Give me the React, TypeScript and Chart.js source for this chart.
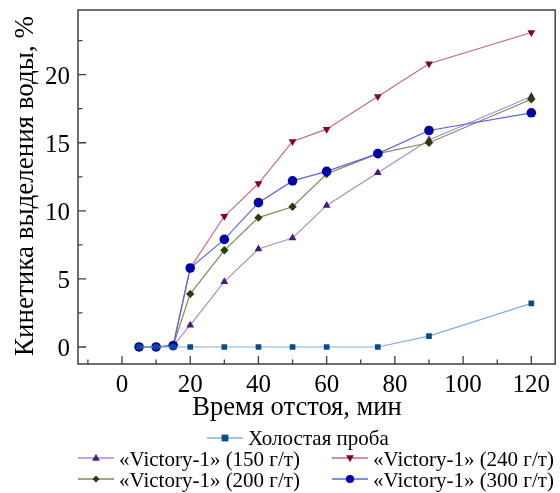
import React, { useEffect, useRef } from "react";
import { Chart, registerables } from "chart.js";

Chart.register(...registerables);

const timeMin = [5, 10, 15, 20, 30, 40, 50, 60, 75, 90, 120];
const blank = [0, 0, 0, 0, 0, 0, 0, 0, 0, 0.8, 3.2];
const v150 = [0, 0, 0.1, 1.6, 4.8, 7.2, 8.0, 10.4, 12.8, 15.2, 18.4];
const v240 = [0, 0, 0.1, 5.8, 9.6, 12.0, 15.1, 16.0, 18.4, 20.8, 23.1];
const v200 = [0, 0, 0.1, 3.9, 7.1, 9.5, 10.3, 12.7, 14.2, 15.0, 18.2];
const v300 = [0, 0, 0.1, 5.8, 7.9, 10.6, 12.2, 12.9, 14.2, 15.9, 17.2];

const seriesLabels = [
  "Холостая проба",
  "«Victory-1» (150 г/т)",
  "«Victory-1» (240 г/т)",
  "«Victory-1» (200 г/т)",
  "«Victory-1» (300 г/т)",
];
const xMajorTicks = [0, 20, 40, 60, 80, 100, 120];
const xMinorTicks = [-10, 10, 30, 50, 70, 90, 110];
const yMajorTicks = [0, 5, 10, 15, 20];
const yMinorTicks = [2.5, 7.5, 12.5, 17.5, 22.5];
const xTitle = "Время отстоя, мин";
const yTitle = "Кинетика выделения воды, %";

const FONT = '"Liberation Serif", "Times New Roman", serif';

type Style = { line: string; marker: string; shape: string; r: number };
const styles: Style[] = [
  { line: "#7fb0dc", marker: "#0b4a8c", shape: "rect", r: 4 },
  { line: "#a98ccc", marker: "#4a1a7a", shape: "tri", r: 4.5 },
  { line: "#c4687f", marker: "#86001f", shape: "triDown", r: 4.5 },
  { line: "#7c8c5e", marker: "#2c3d0c", shape: "diamond", r: 4.2 },
  { line: "#5a66e6", marker: "#0000a8", shape: "circle", r: 4.8 },
];

function drawMarker(ctx: CanvasRenderingContext2D, shape: string, x: number, y: number, r: number, color: string) {
  ctx.save();
  ctx.fillStyle = color;
  ctx.beginPath();
  if (shape === "rect") {
    ctx.rect(x - r, y - r, 2 * r, 2 * r);
  } else if (shape === "tri") {
    ctx.moveTo(x, y - r * 1.1);
    ctx.lineTo(x + r, y + r * 0.7);
    ctx.lineTo(x - r, y + r * 0.7);
    ctx.closePath();
  } else if (shape === "triDown") {
    ctx.moveTo(x, y + r * 1.1);
    ctx.lineTo(x + r, y - r * 0.7);
    ctx.lineTo(x - r, y - r * 0.7);
    ctx.closePath();
  } else if (shape === "diamond") {
    ctx.moveTo(x, y - r);
    ctx.lineTo(x + r, y);
    ctx.lineTo(x, y + r);
    ctx.lineTo(x - r, y);
    ctx.closePath();
  } else {
    ctx.arc(x, y, r, 0, Math.PI * 2);
  }
  ctx.fill();
  ctx.restore();
}

const pointStyleFor = (s: Style) => {
  if (s.shape === "rect") return { pointStyle: "rect", rotation: 0 };
  if (s.shape === "tri") return { pointStyle: "triangle", rotation: 0 };
  if (s.shape === "triDown") return { pointStyle: "triangle", rotation: 180 };
  if (s.shape === "diamond") return { pointStyle: "rectRot", rotation: 0 };
  return { pointStyle: "circle", rotation: 0 };
};

const decor = {
  id: "decor",
  afterDraw(chart: any) {
    const { ctx, chartArea: a, scales } = chart;
    const xs = scales.x;
    const ys = scales.y;
    ctx.save();
    // frame
    ctx.strokeStyle = "#3f3f3f";
    ctx.lineWidth = 1.5;
    ctx.strokeRect(a.left, a.top, a.right - a.left, a.bottom - a.top);
    // ticks
    ctx.lineWidth = 1.3;
    ctx.beginPath();
    xMajorTicks.forEach((v) => {
      const px = xs.getPixelForValue(v);
      ctx.moveTo(px, a.bottom);
      ctx.lineTo(px, a.bottom - 8);
    });
    xMinorTicks.forEach((v) => {
      const px = xs.getPixelForValue(v);
      ctx.moveTo(px, a.bottom);
      ctx.lineTo(px, a.bottom - 4.5);
    });
    yMajorTicks.forEach((v) => {
      const py = ys.getPixelForValue(v);
      ctx.moveTo(a.left, py);
      ctx.lineTo(a.left + 8, py);
    });
    yMinorTicks.forEach((v) => {
      const py = ys.getPixelForValue(v);
      ctx.moveTo(a.left, py);
      ctx.lineTo(a.left + 4.5, py);
    });
    ctx.stroke();
    // tick labels
    ctx.fillStyle = "#000";
    ctx.font = `25px ${FONT}`;
    ctx.textBaseline = "alphabetic";
    ctx.textAlign = "center";
    xMajorTicks.forEach((v) => {
      ctx.fillText(String(v), xs.getPixelForValue(v), a.bottom + 28);
    });
    ctx.textAlign = "right";
    yMajorTicks.forEach((v) => {
      ctx.fillText(String(v), a.left - 8, ys.getPixelForValue(v) + 9);
    });
    // titles
    ctx.font = `26.5px ${FONT}`;
    ctx.textAlign = "center";
    ctx.fillText(xTitle, 297, a.bottom + 51);
    ctx.font = `27px ${FONT}`;
    ctx.save();
    ctx.translate(33, (a.top + a.bottom) / 2 - 1);
    ctx.rotate(-Math.PI / 2);
    ctx.fillText(yTitle, 0, 0);
    ctx.restore();
    // legend
    ctx.font = `21px ${FONT}`;
    ctx.textAlign = "left";
    const items = [
      { i: 0, lx: 207, ly: 438, base: 445 },
      { i: 1, lx: 78, ly: 458, base: 466 },
      { i: 2, lx: 332, ly: 458, base: 466 },
      { i: 3, lx: 78, ly: 479, base: 487 },
      { i: 4, lx: 332, ly: 479, base: 487 },
    ];
    items.forEach((it) => {
      const s = styles[it.i];
      ctx.strokeStyle = s.line;
      ctx.lineWidth = 1.5;
      ctx.beginPath();
      ctx.moveTo(it.lx, it.ly);
      ctx.lineTo(it.lx + 36, it.ly);
      ctx.stroke();
      drawMarker(ctx, s.shape, it.lx + 18, it.ly, s.r * 0.85, s.marker);
      ctx.fillStyle = "#000";
      ctx.fillText(chart.data.datasets[it.i].label, it.lx + 41, it.base);
    });
    ctx.restore();
  },
};

export default function App() {
  const ref = useRef<HTMLCanvasElement>(null);
  useEffect(() => {
    if (!ref.current) return;
    const seriesData = [blank, v150, v240, v200, v300];
    const orders = [0, 4, 3, 2, 1];
    const chart = new Chart(ref.current, {
      type: "line",
      data: {
        datasets: seriesData.map((vals, i) => {
          const s = styles[i];
          const ps = pointStyleFor(s);
          return {
            label: seriesLabels[i],
            data: vals.map((v, k) => ({ x: timeMin[k], y: v })),
            borderColor: s.line,
            backgroundColor: s.marker,
            pointBackgroundColor: s.marker,
            pointBorderColor: s.marker,
            pointBorderWidth: 0,
            borderWidth: 1.2,
            pointRadius: s.r,
            pointStyle: ps.pointStyle as any,
            pointRotation: ps.rotation,
            tension: 0,
            order: orders[i],
          };
        }),
      },
      options: {
        animation: false,
        responsive: false,
        maintainAspectRatio: false,
        layout: { padding: { top: 10, right: 1, bottom: 69, left: 0 } },
        plugins: { legend: { display: false }, tooltip: { enabled: false } },
        scales: {
          x: {
            type: "linear",
            min: -12.9,
            max: 127,
            grid: { display: false },
            border: { display: false },
            ticks: { display: false },
            afterFit: (s: any) => {
              s.height = 60;
            },
          },
          y: {
            type: "linear",
            min: -1.25,
            max: 24.75,
            grid: { display: false },
            border: { display: false },
            ticks: { display: false },
            afterFit: (s: any) => {
              s.width = 78;
            },
          },
        },
      },
      plugins: [decor],
    });
    return () => chart.destroy();
  }, []);
  return (
    <div style={{ position: "fixed", left: 0, top: 0, width: 560, height: 493, background: "#fff" }}>
      <canvas ref={ref} width={560} height={493} style={{ width: 560, height: 493 }} />
    </div>
  );
}
